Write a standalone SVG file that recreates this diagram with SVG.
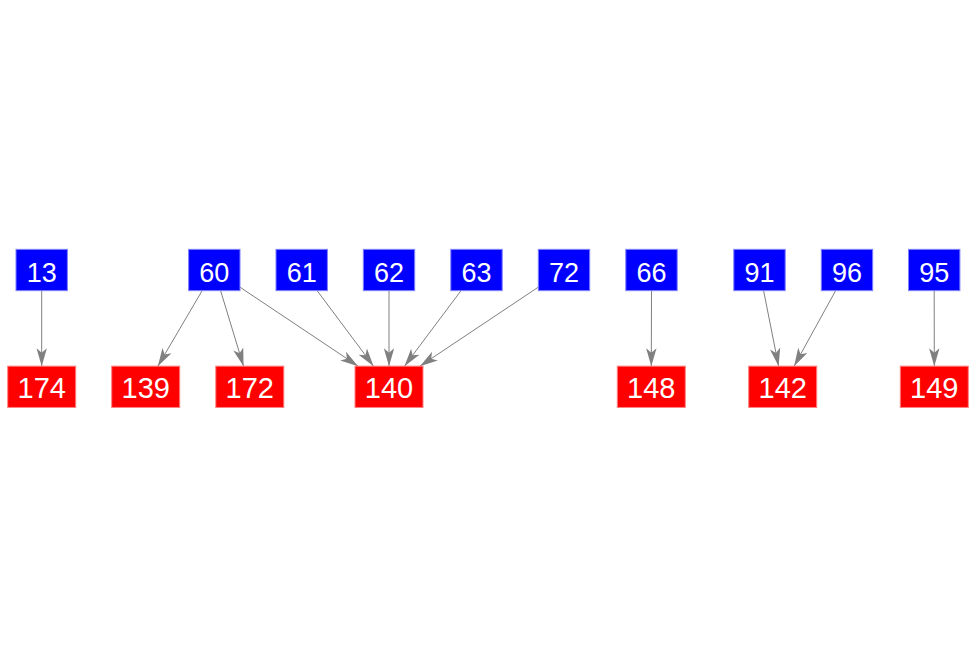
<svg xmlns="http://www.w3.org/2000/svg" width="977" height="656" viewBox="0 0 977 656">
<style>
.b rect{fill:#0000ff;stroke:#8080ff;stroke-width:1}
.r rect{fill:#ff0000;stroke:#ff8080;stroke-width:1}
.b text{font-family:"Liberation Sans",Arial,sans-serif;font-size:27px;fill:#fff;text-anchor:middle}
.r text{font-family:"Liberation Sans",Arial,sans-serif;font-size:29px;fill:#fff;text-anchor:middle}
#edges line{stroke:#808080;stroke-width:1;marker-end:url(#ah)}
</style>
<defs>
<marker id="ah" markerUnits="userSpaceOnUse" viewBox="-19 -6 20 12" markerWidth="20" markerHeight="12" refX="0" refY="0" orient="auto">
<path d="M0,0 L-18,-5.2 L-13.5,0 L-18,5.2 Z" fill="#808080"/>
</marker>
</defs>
<rect width="977" height="656" fill="#fff"/>
<g id="edges">
<line x1="41.7" y1="290.65" x2="41.7" y2="366.15"/>
<line x1="202.17" y1="290.65" x2="157.83" y2="366.15"/>
<line x1="220.58" y1="290.65" x2="243.52" y2="366.15"/>
<line x1="240" y1="287.18" x2="358.11" y2="366.15"/>
<line x1="317.13" y1="290.65" x2="373.57" y2="366.15"/>
<line x1="389" y1="290.65" x2="389" y2="366.15"/>
<line x1="461.03" y1="290.65" x2="404.47" y2="366.15"/>
<line x1="538.3" y1="287.15" x2="419.94" y2="366.15"/>
<line x1="651.5" y1="290.65" x2="651.3" y2="366.15"/>
<line x1="763.6" y1="290.65" x2="778.6" y2="366.15"/>
<line x1="835.63" y1="290.65" x2="794.07" y2="366.15"/>
<line x1="934.2" y1="290.65" x2="934.3" y2="366.15"/>
</g>
<g id="n13" class="b"><rect x="16" y="249.35" width="51.4" height="41.3"/><text x="41.7" y="281.5">13</text></g>
<g id="n60" class="b"><rect x="188.6" y="249.35" width="51.4" height="41.3"/><text x="214.3" y="281.5">60</text></g>
<g id="n61" class="b"><rect x="276" y="249.35" width="51.4" height="41.3"/><text x="301.7" y="281.5">61</text></g>
<g id="n62" class="b"><rect x="363.3" y="249.35" width="51.4" height="41.3"/><text x="389" y="281.5">62</text></g>
<g id="n63" class="b"><rect x="450.8" y="249.35" width="51.4" height="41.3"/><text x="476.5" y="281.5">63</text></g>
<g id="n72" class="b"><rect x="538.3" y="249.35" width="51.4" height="41.3"/><text x="564" y="281.5">72</text></g>
<g id="n66" class="b"><rect x="625.8" y="249.35" width="51.4" height="41.3"/><text x="651.5" y="281.5">66</text></g>
<g id="n91" class="b"><rect x="733.8" y="249.35" width="51.4" height="41.3"/><text x="759.5" y="281.5">91</text></g>
<g id="n96" class="b"><rect x="821.3" y="249.35" width="51.4" height="41.3"/><text x="847" y="281.5">96</text></g>
<g id="n95" class="b"><rect x="908.5" y="249.35" width="51.4" height="41.3"/><text x="934.2" y="281.5">95</text></g>
<g id="n174" class="r"><rect x="7.7" y="366.15" width="68" height="41.3"/><text x="41.7" y="397.5">174</text></g>
<g id="n139" class="r"><rect x="111.7" y="366.15" width="68" height="41.3"/><text x="145.7" y="397.5">139</text></g>
<g id="n172" class="r"><rect x="215.8" y="366.15" width="68" height="41.3"/><text x="249.8" y="397.5">172</text></g>
<g id="n140" class="r"><rect x="355" y="366.15" width="68" height="41.3"/><text x="389" y="397.5">140</text></g>
<g id="n148" class="r"><rect x="617.3" y="366.15" width="68" height="41.3"/><text x="651.3" y="397.5">148</text></g>
<g id="n142" class="r"><rect x="748.7" y="366.15" width="68" height="41.3"/><text x="782.7" y="397.5">142</text></g>
<g id="n149" class="r"><rect x="900.3" y="366.15" width="68" height="41.3"/><text x="934.3" y="397.5">149</text></g>
</svg>
